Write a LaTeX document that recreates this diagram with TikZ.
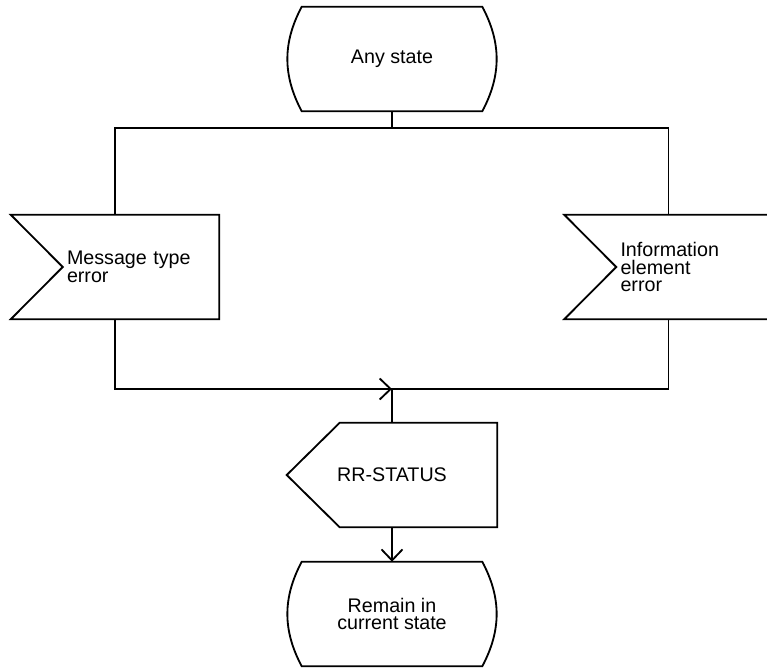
\documentclass[tikz,border=0pt]{standalone}
\usepackage{fontspec}
\setmainfont{Liberation Sans}
\usepackage{tikz}
\usetikzlibrary{
    arrows.meta,
    positioning,
    calc
}

\begin{document}
\begin{tikzpicture}[
    font=\fontsize{14}{12.5}\selectfont,
    outline/.style={draw=black, line width=1.3pt},
    statebox/.style={
        rectangle,
        minimum width=4.5cm,
        minimum height=2.6cm,
        align=center,
        append after command={
            \pgfextra{
                \draw[outline] (\tikzlastnode.north west) -- (\tikzlastnode.north east)
                    to[bend left=28] (\tikzlastnode.south east) -- (\tikzlastnode.south west)
                    to[bend left=28] (\tikzlastnode.north west) -- cycle;
            }
        }
    },
    inputbox/.style={
        rectangle,
        minimum width=3.9cm,
        minimum height=2.6cm,
        inner xsep=0.1cm,
        text width=3.7cm,
        align=left,
        append after command={
            \pgfextra{
                \draw[outline] ([xshift=-1.3cm]\tikzlastnode.north west) -- (\tikzlastnode.north east)
                    -- (\tikzlastnode.south east) -- ([xshift=-1.3cm]\tikzlastnode.south west)
                    -- (\tikzlastnode.west) -- cycle;
            }
        }
    },
    outputbox/.style={
        rectangle,
        minimum width=5.25cm,
        minimum height=2.6cm,
        align=center,
        append after command={
            \pgfextra{
                \draw[outline] ([xshift=1.325cm]\tikzlastnode.north west) -- (\tikzlastnode.north east)
                    -- (\tikzlastnode.south east) -- ([xshift=1.325cm]\tikzlastnode.south west)
                    -- (\tikzlastnode.west) -- cycle;
            }
        }
    },
    line/.style={line width=1.3pt},
    arrow/.style={line width=1.3pt, -{Straight Barb[length=2.75mm, width=5.25mm]}}
]

\useasboundingbox (0, 0) rectangle (19.175, 16.7);

% States
\node[statebox] (anystate) at (9.8, 15.225) {Any state};
\node[statebox] (remain) at (9.8, 1.35) {Remain in\\current state};

% Inputs
\node[inputbox] (msgerr) at (3.525, 10.025) {Message type\\error};
\node[inputbox] (infoerr) at (17.3625, 10.025) {Information\\element\\error};

% Output
\node[outputbox] (status) at (9.8, 4.825) {RR-STATUS};

% Junctions
\coordinate (fork) at (9.8, 13.5);
\coordinate (merge) at (9.8, 6.975);

% Connectors
\draw[line] (anystate.south) -- (fork);
\draw[line] ([xshift=-0.65cm]msgerr.north) |- (fork) -| ([xshift=-0.65cm]infoerr.north);
\draw[arrow] ([xshift=-0.65cm]msgerr.south) |- (merge);
\draw[line] ([xshift=-0.65cm]infoerr.south) |- (merge) -- (status.north);
\draw[arrow] (status.south) -- (remain.north);

\end{tikzpicture}
\end{document}
